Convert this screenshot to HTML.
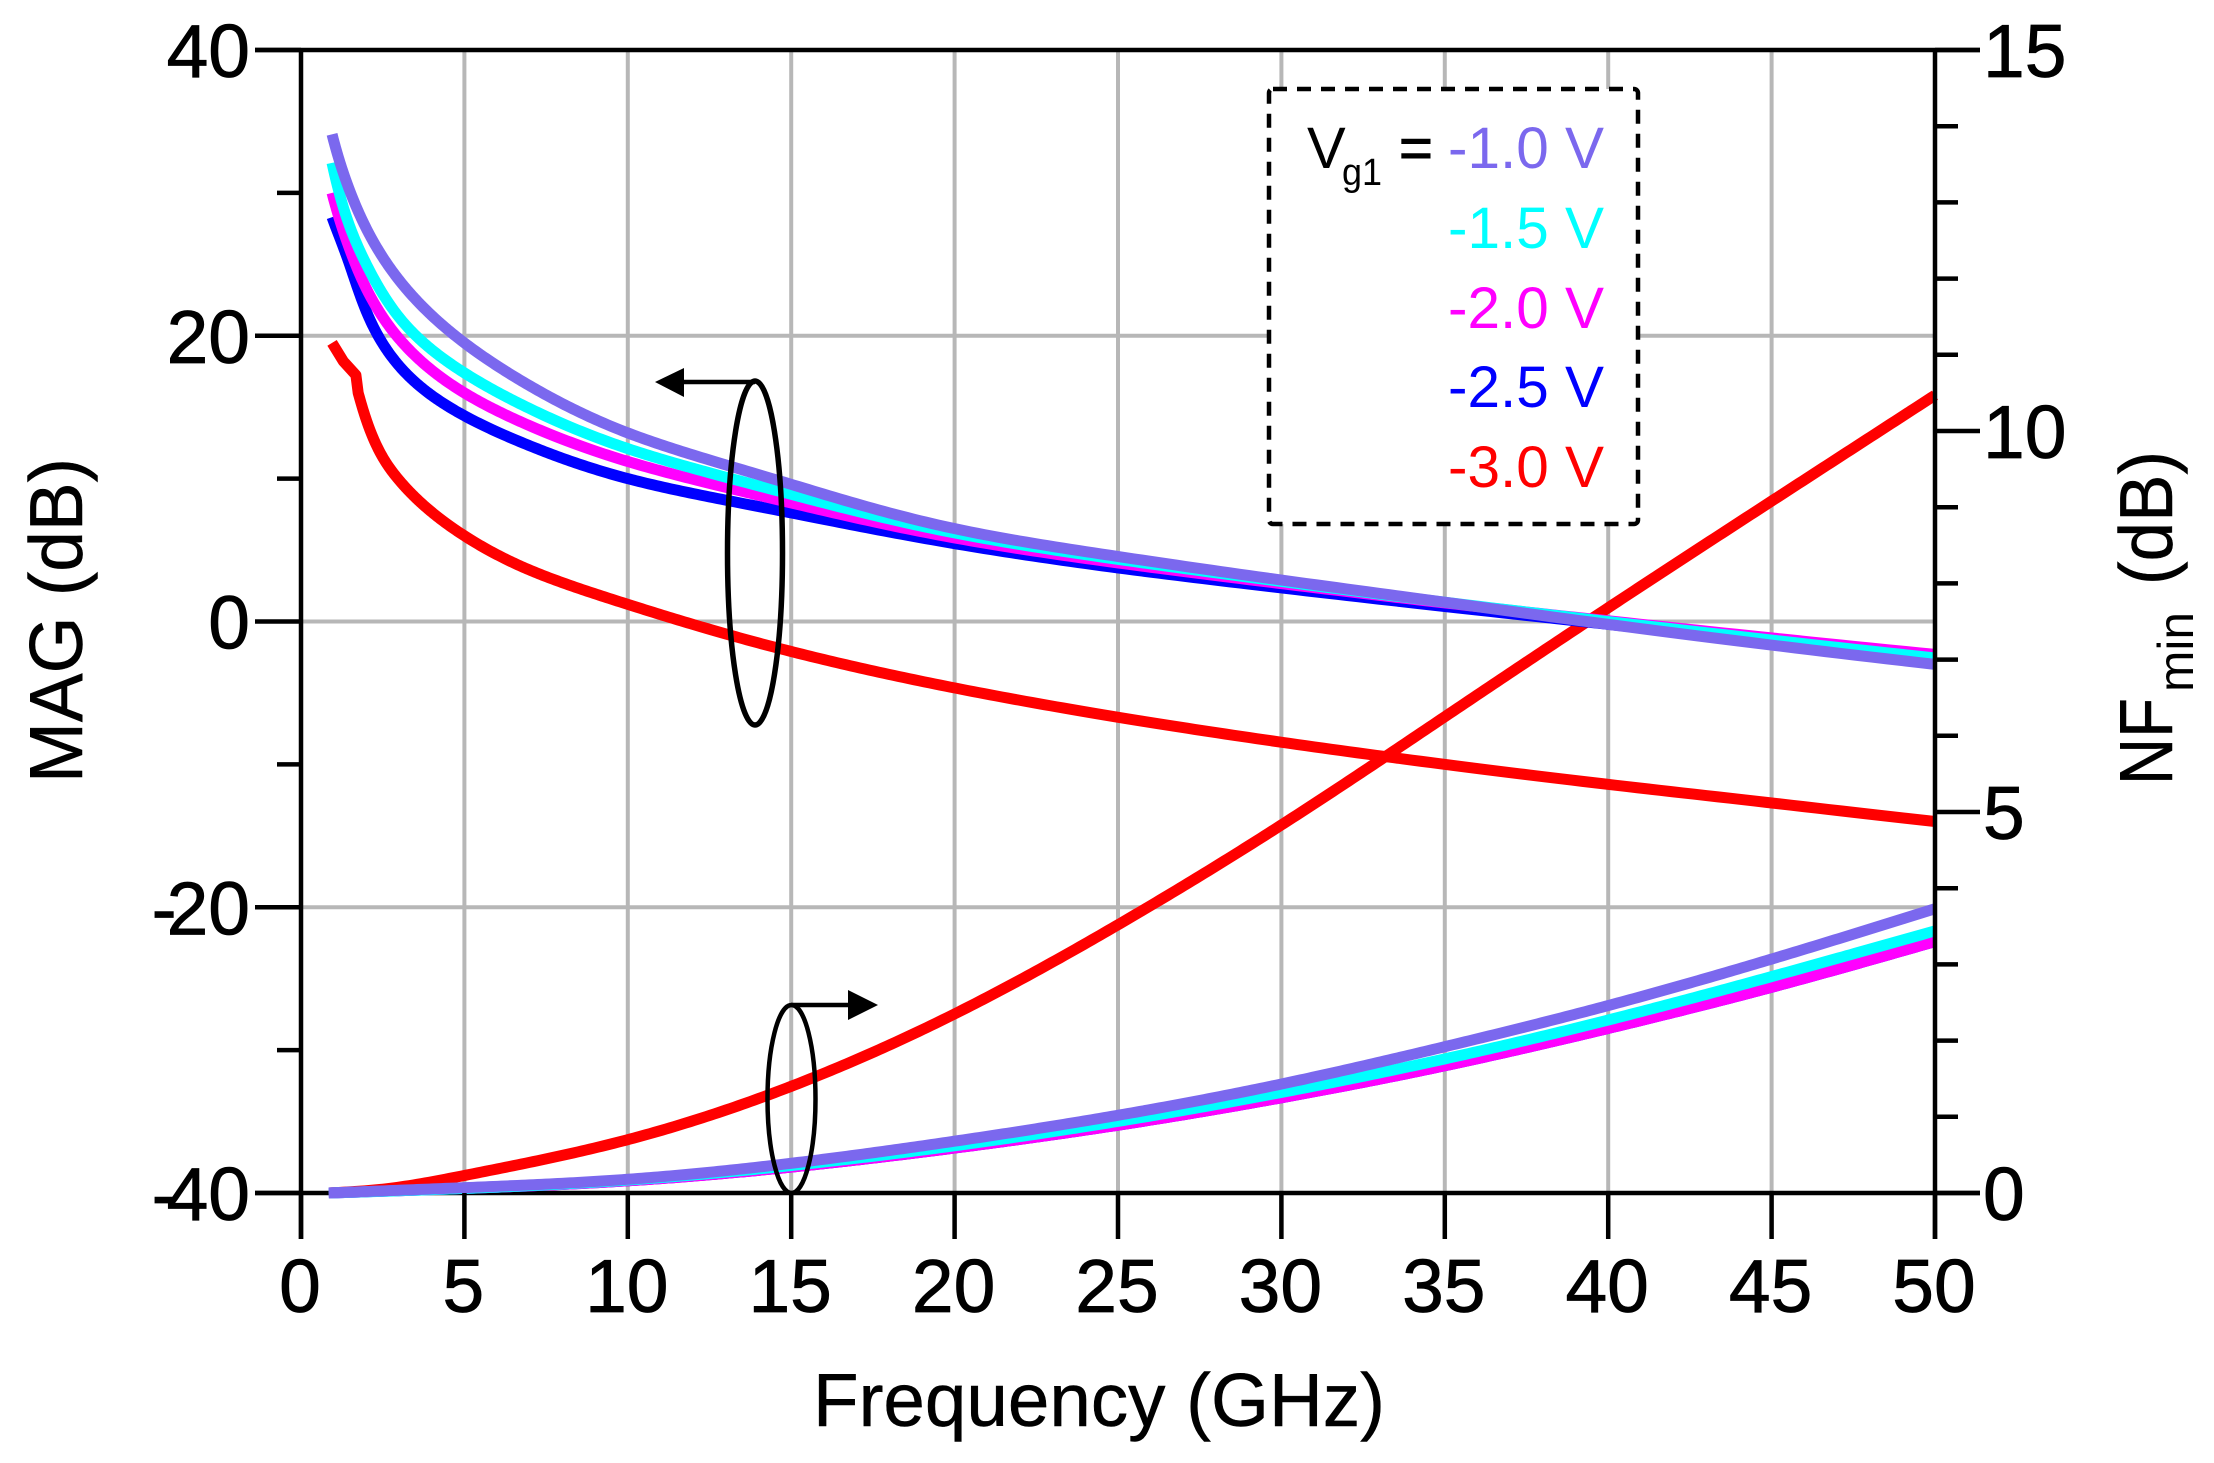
<!DOCTYPE html>
<html lang="en">
<head>
<meta charset="utf-8">
<title>MAG and NFmin versus Frequency</title>
<style>
  html, body { margin: 0; padding: 0; background: #ffffff; }
  svg { display: block; font-family: "Liberation Sans", sans-serif; }
</style>
</head>
<body>
<svg id="chart" xmlns="http://www.w3.org/2000/svg" width="2214" height="1463" viewBox="0 0 2214 1463">
  <rect x="0" y="0" width="2214" height="1463" fill="#ffffff"/>
  <g id="grid"></g>
  <g id="series"></g>
  <g id="axes"></g>

  <g>
    <rect x="1269" y="89" width="369" height="435" rx="4" fill="#ffffff" stroke="#000000" stroke-width="4.5" stroke-dasharray="14 10"/>
    <text x="1307" y="168" font-size="58" fill="#000">V</text>
    <text x="1342" y="185" font-size="38" fill="#000" textLength="40" lengthAdjust="spacingAndGlyphs">g1</text>
    <text x="1399" y="168" font-size="58" fill="#000" stroke="#000" stroke-width="1">=</text>
    <text x="1448" y="168" font-size="58" fill="#7b68ee" textLength="156" lengthAdjust="spacingAndGlyphs">-1.0 V</text>
    <text x="1448" y="248" font-size="58" fill="#00ffff" textLength="156" lengthAdjust="spacingAndGlyphs">-1.5 V</text>
    <text x="1448" y="328" font-size="58" fill="#ff00ff" textLength="156" lengthAdjust="spacingAndGlyphs">-2.0 V</text>
    <text x="1448" y="407" font-size="58" fill="#0000ff" textLength="156" lengthAdjust="spacingAndGlyphs">-2.5 V</text>
    <text x="1448" y="487" font-size="58" fill="#ff0000" textLength="156" lengthAdjust="spacingAndGlyphs">-3.0 V</text>
  </g>

  <g>
    <ellipse cx="755" cy="553" rx="27.5" ry="172" fill="none" stroke="#000" stroke-width="5.5"/>
    <line x1="755" y1="382" x2="680" y2="382" stroke="#000" stroke-width="4.5"/>
    <polygon points="655,382 684,368 684,397" fill="#000"/>
  </g>
  <g>
    <ellipse cx="791.5" cy="1099" rx="24" ry="94" fill="none" stroke="#000" stroke-width="4.5"/>
    <line x1="791" y1="1005" x2="852" y2="1005" stroke="#000" stroke-width="4.5"/>
    <polygon points="878,1005 848,990 848,1020" fill="#000"/>
  </g>

  <text x="813" y="1426" font-size="75" fill="#000" stroke="#000" stroke-width="0.5" textLength="572" lengthAdjust="spacingAndGlyphs">Frequency (GHz)</text>
  <text transform="translate(82,783) rotate(-90)" font-size="75" fill="#000" stroke="#000" stroke-width="0.5" textLength="325" lengthAdjust="spacingAndGlyphs">MAG (dB)</text>
  <g>
    <text transform="translate(2172,785) rotate(-90)" font-size="75" fill="#000" stroke="#000" stroke-width="0.5" textLength="87" lengthAdjust="spacingAndGlyphs">NF</text>
    <text transform="translate(2193,692) rotate(-90)" font-size="50" fill="#000" textLength="80" lengthAdjust="spacingAndGlyphs">min</text>
    <text transform="translate(2172,585) rotate(-90)" font-size="75" fill="#000" stroke="#000" stroke-width="0.5" textLength="134" lengthAdjust="spacingAndGlyphs">(dB)</text>
  </g>
</svg>

<script>
// ---- chart data ----
const magFrequencies = [0.95, 1.5, 2, 3, 5, 7, 10, 15, 20, 25, 30, 35, 40, 45, 50];
const magVg10 = [34.1, 30.1, 27.5, 23.9, 19.5, 16.5, 13.2, 9.6, 6.5, 4.55, 2.9, 1.35, -0.2, -1.65, -3.0];
const magVg15 = [32.1, 27.6, 25.0, 21.3, 17.4, 14.9, 12.1, 8.9, 6.2, 4.35, 2.8, 1.35, 0.0, -1.3, -2.55];
const magVg20 = [30.0, 26.0, 23.3, 19.8, 16.0, 13.7, 11.2, 8.3, 5.85, 4.1, 2.65, 1.3, 0.05, -1.15, -2.3];
const magVg25 = [28.3, 24.9, 21.7, 17.9, 14.4, 12.3, 10.0, 7.6, 5.45, 3.75, 2.35, 1.05, -0.2, -1.45, -2.65];
const magVg30KinkFrequencies = [0.95, 1.3, 1.68];
const magVg30Kink = [19.5, 18.2, 17.25];
const magVg30Frequencies = [1.75, 2, 2.5, 3, 5, 7, 10, 15, 20, 25, 30, 35, 40, 45, 50];
const magVg30 = [16.0, 14.1, 11.5, 9.9, 6.0, 3.6, 1.2, -2.1, -4.65, -6.7, -8.45, -10.0, -11.4, -12.7, -14.0];

const nfFrequencies = [0.85, 5, 10, 15, 20, 25, 30, 35, 40, 45, 50];
const nfVg10 = [0.0, 0.07, 0.18, 0.39, 0.68, 1.02, 1.43, 1.92, 2.46, 3.07, 3.73];
const nfVg15 = [0.0, 0.06, 0.17, 0.36, 0.62, 0.94, 1.32, 1.76, 2.27, 2.84, 3.44];
const nfVg20 = [0.0, 0.06, 0.16, 0.34, 0.59, 0.89, 1.25, 1.67, 2.16, 2.70, 3.30];
const nfVg25 = [0.0, 0.06, 0.16, 0.34, 0.59, 0.89, 1.25, 1.67, 2.16, 2.70, 3.30];
const nfVg30Frequencies = [0.85, 2.5, 5, 10, 15, 20, 25, 30, 35, 40, 45, 50];
const nfVg30 = [0.0, 0.05, 0.23, 0.70, 1.40, 2.35, 3.52, 4.83, 6.25, 7.68, 9.08, 10.47];

const xTickLabels = ["0", "5", "10", "15", "20", "25", "30", "35", "40", "45", "50"];
const leftTickLabels = ["40", "20", "0", "-20", "-40"];
const leftMinorTicks = [30, 10, -10, -30];
const rightTickLabels = ["15", "10", "5", "0"];
const rightMinorTicks = [1, 2, 3, 4, 6, 7, 8, 9, 11, 12, 13, 14];

// ---- axis functions ----
function xAxis(f) { return 301 + (f / 50) * 1634; }
function yLeft(db) { return 1193 - ((db + 40) / 80) * 1143; }
function yRight(db) { return 1193 - (db / 15) * 1143; }

const SVGNS = "http://www.w3.org/2000/svg";
function line(parent, x1, y1, x2, y2, color, width) {
  const el = document.createElementNS(SVGNS, "line");
  el.setAttribute("x1", x1);
  el.setAttribute("y1", y1);
  el.setAttribute("x2", x2);
  el.setAttribute("y2", y2);
  el.setAttribute("stroke", color);
  el.setAttribute("stroke-width", width);
  parent.appendChild(el);
  return el;
}
function label(parent, x, y, anchor, str) {
  const el = document.createElementNS(SVGNS, "text");
  el.setAttribute("x", x);
  el.setAttribute("y", y);
  el.setAttribute("text-anchor", anchor);
  el.setAttribute("font-size", "75");
  el.setAttribute("fill", "#000");
  el.setAttribute("stroke", "#000");
  el.setAttribute("stroke-width", "0.8");
  if (str.charAt(0) === "-") {
    const dash = document.createElementNS(SVGNS, "tspan");
    dash.setAttribute("letter-spacing", "-10");
    dash.textContent = "-";
    el.appendChild(dash);
    el.appendChild(document.createTextNode(str.slice(1)));
  } else {
    el.textContent = str;
  }
  parent.appendChild(el);
  return el;
}
// Natural cubic spline through (ts, vs), returned as a function of t
function naturalSpline(ts, vs) {
  const n = ts.length;
  const a = new Array(n).fill(0), b = new Array(n).fill(1), c = new Array(n).fill(0), r = new Array(n).fill(0);
  for (let i = 1; i < n - 1; i++) {
    const h0 = ts[i] - ts[i - 1], h1 = ts[i + 1] - ts[i];
    a[i] = h0;
    b[i] = 2 * (h0 + h1);
    c[i] = h1;
    r[i] = 6 * ((vs[i + 1] - vs[i]) / h1 - (vs[i] - vs[i - 1]) / h0);
  }
  for (let i = 1; i < n; i++) {
    const w = a[i] / b[i - 1];
    b[i] -= w * c[i - 1];
    r[i] -= w * r[i - 1];
  }
  const m = new Array(n).fill(0);
  m[n - 1] = r[n - 1] / b[n - 1];
  for (let i = n - 2; i >= 0; i--) m[i] = (r[i] - c[i] * m[i + 1]) / b[i];
  return function (t) {
    let i = 0;
    while (i < n - 2 && t > ts[i + 1]) i++;
    const h = ts[i + 1] - ts[i], A = (ts[i + 1] - t) / h, B = (t - ts[i]) / h;
    return A * vs[i] + B * vs[i + 1] + ((A * A * A - A) * m[i] + (B * B * B - B) * m[i + 1]) * h * h / 6;
  };
}
// Sampled spline path; fwd/inv map frequency to the spline's parameter space
function splinePoints(freqs, vals, yFn, fwd, inv) {
  const ts = freqs.map(fwd);
  const s = naturalSpline(ts, vals);
  const pts = [];
  const t0 = ts[0], t1 = ts[ts.length - 1];
  for (let k = 0; k <= 400; k++) {
    const t = t0 + (t1 - t0) * k / 400;
    pts.push(xAxis(inv(t)).toFixed(2) + " " + yFn(s(t)).toFixed(2));
  }
  return pts;
}

// ---- grid ----
const gridG = document.getElementById("grid");
xTickLabels.forEach(function (t) {
  const f = Number(t);
  if (f === 0 || f === 50) return;
  const el = line(gridG, xAxis(f), 50, xAxis(f), 1193, "#b7b7b7", 4);
  
  
});
leftTickLabels.forEach(function (t) {
  const v = Number(t);
  if (v === 40 || v === -40) return;
  const el = line(gridG, 301, yLeft(v), 1935, yLeft(v), "#b7b7b7", 4);
  
  
});

// ---- series ----
const seriesG = document.getElementById("series");
function addPath(name, pts, color) {
  const el = document.createElementNS(SVGNS, "path");
  el.setAttribute("d", "M" + pts.join(" L"));
  el.setAttribute("fill", "none");
  el.setAttribute("stroke", color);
  el.setAttribute("stroke-width", "11");
  el.setAttribute("stroke-linejoin", "round");
  
  
  seriesG.appendChild(el);
}
function magCurve(name, freqs, vals, color, headF, headV) {
  const head = (headF || []).map(function (f, i) {
    return xAxis(f).toFixed(2) + " " + yLeft(headV[i]).toFixed(2);
  });
  addPath(name, head.concat(splinePoints(freqs, vals, yLeft, Math.log, Math.exp)), color);
}
function nfCurve(name, freqs, vals, color) {
  const same = function (f) { return f; };
  addPath(name, splinePoints(freqs, vals, yRight, same, same), color);
}
nfCurve("nf-curve-3-0v", nfVg30Frequencies, nfVg30, "#ff0000");
magCurve("mag-curve-3-0v", magVg30Frequencies, magVg30, "#ff0000", magVg30KinkFrequencies, magVg30Kink);
nfCurve("nf-curve-2-5v", nfFrequencies, nfVg25, "#0000ff");
magCurve("mag-curve-2-5v", magFrequencies, magVg25, "#0000ff");
nfCurve("nf-curve-2-0v", nfFrequencies, nfVg20, "#ff00ff");
magCurve("mag-curve-2-0v", magFrequencies, magVg20, "#ff00ff");
nfCurve("nf-curve-1-5v", nfFrequencies, nfVg15, "#00ffff");
magCurve("mag-curve-1-5v", magFrequencies, magVg15, "#00ffff");
nfCurve("nf-curve-1-0v", nfFrequencies, nfVg10, "#7b68ee");
magCurve("mag-curve-1-0v", magFrequencies, magVg10, "#7b68ee");

// ---- axes ----
const axesG = document.getElementById("axes");
[[301, 50, 301, 1239, "left-axis-line"], [1935, 50, 1935, 1239, "right-axis-line"],
 [255, 50, 1980, 50, "top-axis-line"]].forEach(function (a) {
  const el = line(axesG, a[0], a[1], a[2], a[3], "#000", 4.5);
  
  
});
const baseLine = line(axesG, 255, 1193, 1980, 1193, "#000", 4.5);


// The bottom axis passes beneath the curve starts
seriesG.parentNode.insertBefore(baseLine, seriesG);

xTickLabels.forEach(function (t) {
  const f = Number(t);
  const tick = line(axesG, xAxis(f), 1193, xAxis(f), 1239, "#000", 4.5);
  
  
  const txt = label(axesG, xAxis(f) - 1, 1312, "middle", t);
  
  
});
leftTickLabels.forEach(function (t) {
  const v = Number(t);
  const tick = line(axesG, 255, yLeft(v), 301, yLeft(v), "#000", 4.5);
  
  
  const txt = label(axesG, 250, yLeft(v) + 27, "end", t);
  
  
});
leftMinorTicks.forEach(function (v) {
  const tick = line(axesG, 277, yLeft(v), 301, yLeft(v), "#000", 4.5);
  
  
});
rightTickLabels.forEach(function (t) {
  const v = Number(t);
  const tick = line(axesG, 1935, yRight(v), 1980, yRight(v), "#000", 4.5);
  
  
  const txt = label(axesG, 1983, yRight(v) + 27, "start", t);
  
  
});
rightMinorTicks.forEach(function (v) {
  const tick = line(axesG, 1935, yRight(v), 1958, yRight(v), "#000", 4.5);
  
  
});
</script>
</body>
</html>
